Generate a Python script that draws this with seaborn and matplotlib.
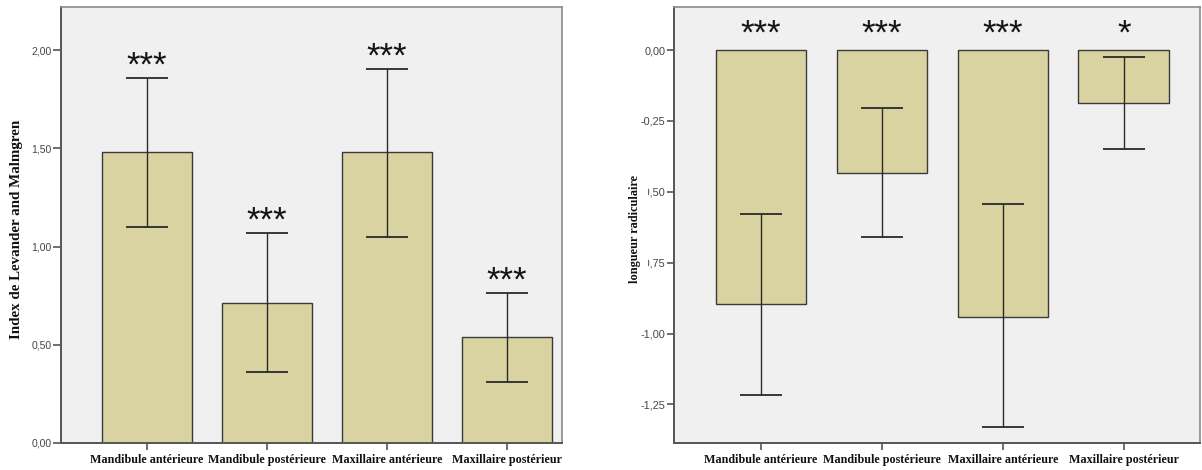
import matplotlib
matplotlib.use("Agg")
import matplotlib.pyplot as plt
import seaborn as sns
import pandas as pd
import numpy as np

categories = ["Mandibule antérieure", "Mandibule postérieure",
              "Maxillaire antérieure", "Maxillaire postérieur"]

# Left panel: Index de Levander and Malmgren
left_means = [1.48, 0.715, 1.48, 0.54]
left_low = [1.10, 0.36, 1.05, 0.31]
left_high = [1.86, 1.07, 1.905, 0.765]
left_sig = ["***", "***", "***", "***"]
left_ticks = [0.0, 0.5, 1.0, 1.5, 2.0]

# Right panel: longueur radiculaire
right_means = [-0.895, -0.435, -0.94, -0.185]
right_low = [-1.215, -0.66, -1.33, -0.348]
right_high = [-0.577, -0.205, -0.543, -0.025]
right_sig = ["***", "***", "***", "*"]
right_ticks = [0.0, -0.25, -0.5, -0.75, -1.0, -1.25]

sns.set_theme(style="white")
plt.rcParams["font.family"] = ["Liberation Sans", "DejaVu Sans"]

BAR = "#d8d3a0"
EDGE = "#3a3a3a"
BG = "#f0f0f0"
SERIF = ["Liberation Serif", "DejaVu Serif"]

fig = plt.figure(figsize=(12.02, 4.70), dpi=100)
axL = fig.add_axes([61 / 1202, 27 / 470, 501 / 1202, 436 / 470])
axR = fig.add_axes([674 / 1202, 27 / 470, 526 / 1202, 436 / 470])


def fmt(v):
    return f"{v:.2f}".replace(".", ",")


def panel(ax, means, low, high, ticks, ylim, xlim, ytl_size, ytick_len):
    df = pd.DataFrame({"cat": categories, "val": means})
    sns.barplot(data=df, x="cat", y="val", ax=ax, color=BAR, saturation=1,
                width=0.75, edgecolor=EDGE, linewidth=1.0, errorbar=None)
    m = np.array(means)
    err = np.vstack([m - np.array(low), np.array(high) - m])
    ax.errorbar(np.arange(len(means)), m, yerr=err, fmt="none",
                ecolor="#2a2a2a", elinewidth=1.0, capsize=15, capthick=1.3)
    ax.set_facecolor(BG)
    ax.set_ylim(*ylim)
    ax.set_xlim(*xlim)
    ax.set_yticks(ticks)
    ax.set_yticklabels([fmt(t) for t in ticks])
    ax.tick_params(axis="y", labelsize=ytl_size, labelcolor="#444444",
                   length=ytick_len, width=1.2, color="#555555", left=True,
                   pad=1)
    ax.tick_params(axis="x", length=5, width=1.2, color="#555555",
                   bottom=True, pad=3)
    for lab in ax.get_xticklabels():
        lab.set_fontfamily(SERIF)
        lab.set_fontweight("bold")
        lab.set_fontsize(8.7)
        lab.set_color("#111111")
    ax.set_xlabel("")
    for side in ["top", "right"]:
        ax.spines[side].set_color("#8a8a8a")
        ax.spines[side].set_linewidth(1.2)
    for side in ["left", "bottom"]:
        ax.spines[side].set_color("#555555")
        ax.spines[side].set_linewidth(1.4)
    return ax


panel(axL, left_means, left_low, left_high, left_ticks,
      (0.0, 2.22), (-0.717, 3.458), 7.5, 6)
axL.set_ylabel("Index de Levander and Malmgren", fontfamily=SERIF,
               fontweight="bold", fontsize=10.8, color="#111111")
axL.yaxis.set_label_coords(-0.075, 0.49)
for i, (h, s) in enumerate(zip(left_high, left_sig)):
    axL.annotate(s, xy=(i, h), xytext=(0, 1.5), textcoords="offset points",
                 ha="center", va="baseline", fontsize=25, color="#151515",
                 fontweight="light")

panel(axR, right_means, right_low, right_high, right_ticks,
      (-1.386, 0.152), (-0.72, 3.63), 7.8, 5)
axR.set_ylabel("longueur radiculaire", fontfamily=SERIF,
               fontweight="bold", fontsize=8.8, color="#111111",
               bbox=dict(facecolor="white", edgecolor="none",
                         boxstyle="square,pad=0.6"))
axR.yaxis.set_label_coords(-0.063, 0.49)
for i, s in enumerate(right_sig):
    axR.annotate(s, xy=(i, 0.0), xytext=(0, 4.5), textcoords="offset points",
                 ha="center", va="baseline", fontsize=25, color="#151515",
                 fontweight="light")

fig.savefig("out.png", dpi=100, facecolor="white")
